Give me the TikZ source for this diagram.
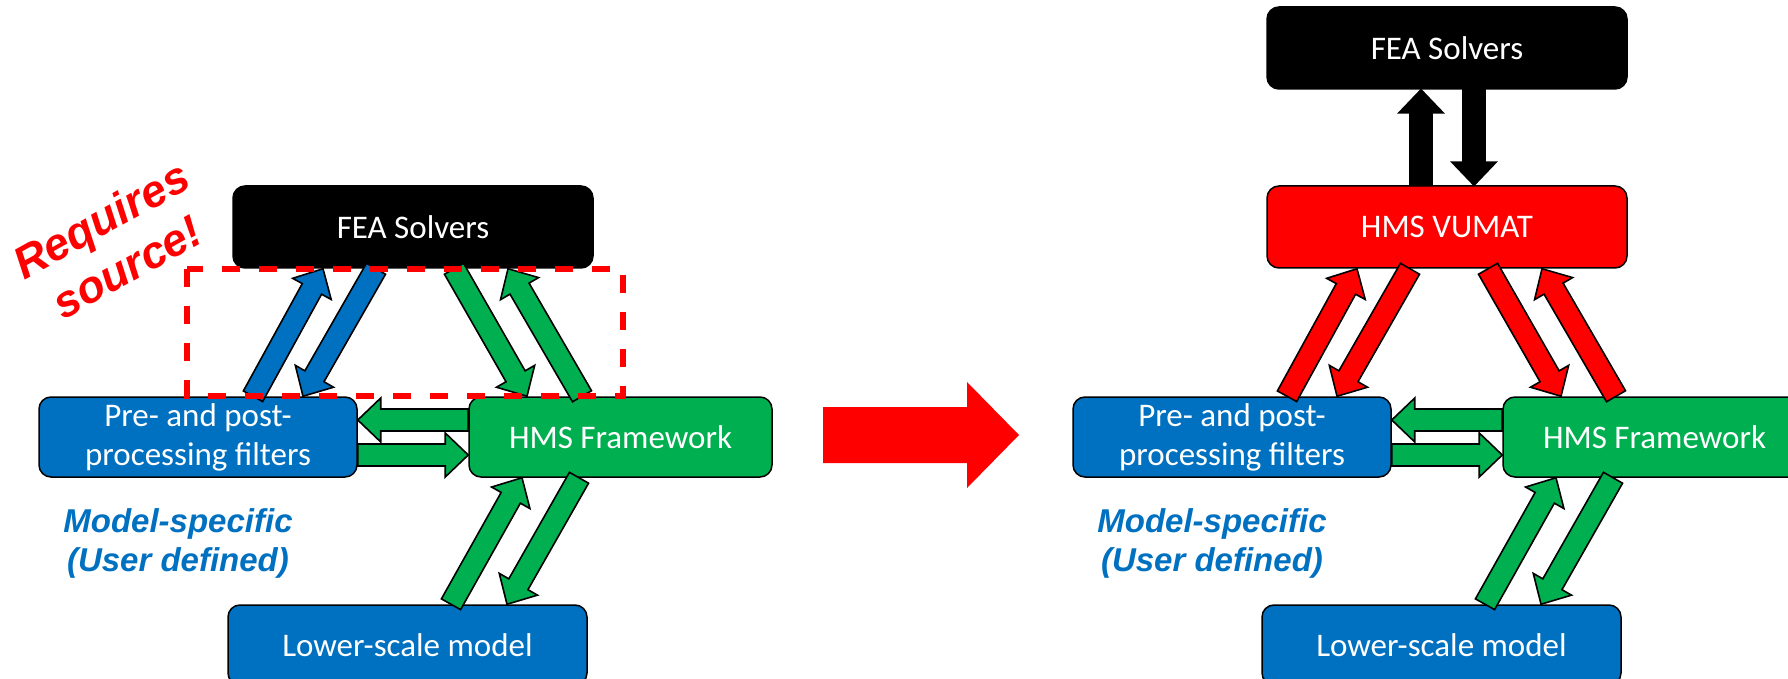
\documentclass[tikz,border=0pt]{standalone}
\usepackage{fontspec}
\setmainfont{Carlito}
\newfontfamily\arialfont{Liberation Sans}
\usetikzlibrary{calc}

\definecolor{hmsblue}{RGB}{0,112,192}
\definecolor{hmsgreen}{RGB}{0,176,80}
\definecolor{hmsred}{RGB}{255,0,0}

\newcommand{\arrshaft}{5.5pt}
\newcommand{\arrwing}{11pt}
\newcommand{\arrhead}{11.5pt}

% fat arrow from (#2)+(#3) to (#4)+(#5)
\newcommand{\blockarrow}[5][]{%
  \coordinate (ba-s) at ($(#2)+(#3)$);
  \coordinate (ba-t) at ($(#4)+(#5)$);
  \coordinate (ba-h) at ($(ba-t)!\arrhead!(ba-s)$);
  \filldraw[blockarr,#1] ($(ba-s)!\arrshaft!90:(ba-t)$)
    -- ($(ba-h)!\arrshaft!-90:(ba-s)$) -- ($(ba-h)!\arrwing!-90:(ba-s)$)
    -- (ba-t)
    -- ($(ba-h)!\arrwing!90:(ba-s)$) -- ($(ba-h)!\arrshaft!90:(ba-s)$)
    -- ($(ba-s)!\arrshaft!-90:(ba-t)$) -- cycle;
}

\tikzset{
  box/.style={draw=black, line width=0.75pt, rounded corners=6pt, text=white,
              align=center, inner sep=2pt, minimum height=40pt,
              font=\fontsize{16.5}{19.5}\selectfont},
  solver/.style={box, fill=black, minimum width=180pt, minimum height=41pt},
  vumat/.style={box, fill=hmsred, minimum width=180pt, minimum height=41pt},
  userbox/.style={box, fill=hmsblue},
  frame/.style={box, fill=hmsgreen, minimum width=151.5pt},
  blockarr/.style={draw=black, line width=0.8pt, line join=miter},
  bigarr/.style={fill=hmsred, draw=none},
  srcbox/.style={draw=hmsred, line width=3pt, dash pattern=on 9pt off 9.5pt},
  reqlabel/.style={text=hmsred, align=center,
                   font=\arialfont\bfseries\itshape\fontsize{22.5}{27}\selectfont},
  userlabel/.style={text=hmsblue, align=center,
                    font=\arialfont\bfseries\itshape\fontsize{16.5}{19.5}\selectfont},
}

\begin{document}
\begin{tikzpicture}[x=0.5pt,y=-0.5pt]
  \clip (0,0) rectangle (1788,679);
%
  % left: solver coupled through its source
  \node[solver] (lfea) at (413,227) {FEA Solvers};
  \node[userbox, minimum width=159pt] (lpre) at (198,437) {Pre- and post-\\processing filters};
  \node[frame] (lhms) at (620.5,437) {HMS Framework};
  \node[userbox, minimum width=179.5pt] (llow) at (407.5,645) {Lower-scale model};
%
  \blockarrow[fill=hmsblue]{lpre.north}{55,0}{lfea.south}{-90,0}
  \blockarrow[fill=hmsblue]{lfea.south}{-37,0}{lpre.north}{105,0}
  \blockarrow[fill=hmsgreen]{lfea.south}{41,0}{lhms.north}{-93.5,0}
  \blockarrow[fill=hmsgreen]{lhms.north}{-38.5,0}{lfea.south}{95,0}
%
  \blockarrow[fill=hmsgreen]{lhms.west}{0,-17}{lpre.east}{0,-17}
  \blockarrow[fill=hmsgreen]{lpre.east}{0,18}{lhms.west}{0,18}
%
  \blockarrow[fill=hmsgreen]{llow.north}{43.5,0}{lhms.south}{-98.5,0}
  \blockarrow[fill=hmsgreen]{lhms.south}{-41.5,0}{llow.north}{99.5,0}
%
  \node[reqlabel, rotate=29] (req) at (114,243) {Requires\\source!};
  \node[userlabel] (lspec) at (178,543) {Model-specific\\(User defined)};
  \draw[srcbox] (187,269) rectangle (623,396);
%
  % the big arrow in between
  \coordinate (bigtail) at (823,435);
  \coordinate (bigtip) at (1019,435);
  {\def\arrshaft{14pt}\def\arrwing{26.5pt}\def\arrhead{26pt}
   \blockarrow[bigarr]{bigtail}{0,0}{bigtip}{0,0}}
%
  % right: solver coupled through the VUMAT
  \node[solver] (rfea) at (1447,48) {FEA Solvers};
  \node[vumat] (rvum) at (1447,227) {HMS VUMAT};
  \node[userbox, minimum width=159pt] (rpre) at (1232,437) {Pre- and post-\\processing filters};
  \node[frame] (rhms) at (1654.5,437) {HMS Framework};
  \node[userbox, minimum width=179.5pt] (rlow) at (1441.5,645) {Lower-scale model};
%
  \blockarrow[fill=black]{rvum.north}{-26,0}{rfea.south}{-26,0}
  \blockarrow[fill=black]{rfea.south}{27,0}{rvum.north}{27,0}
%
  \blockarrow[fill=hmsred]{rpre.north}{55,0}{rvum.south}{-90,0}
  \blockarrow[fill=hmsred]{rvum.south}{-37,0}{rpre.north}{105,0}
  \blockarrow[fill=hmsred]{rvum.south}{41,0}{rhms.north}{-93.5,0}
  \blockarrow[fill=hmsred]{rhms.north}{-38.5,0}{rvum.south}{95,0}
%
  \blockarrow[fill=hmsgreen]{rhms.west}{0,-17}{rpre.east}{0,-17}
  \blockarrow[fill=hmsgreen]{rpre.east}{0,18}{rhms.west}{0,18}
%
  \blockarrow[fill=hmsgreen]{rlow.north}{43.5,0}{rhms.south}{-98.5,0}
  \blockarrow[fill=hmsgreen]{rhms.south}{-41.5,0}{rlow.north}{99.5,0}
%
  \node[userlabel] (rspec) at (1212,543) {Model-specific\\(User defined)};
\end{tikzpicture}
\end{document}
